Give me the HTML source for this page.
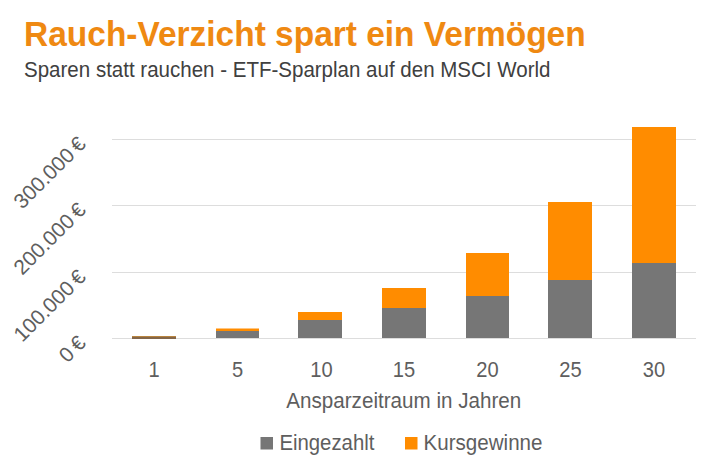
<!DOCTYPE html>
<html><head><meta charset="utf-8">
<style>
html,body{margin:0;padding:0;background:#fff;}
body{width:710px;height:473px;overflow:hidden;}
svg{display:block;font-family:"Liberation Sans",sans-serif;}
</style></head>
<body>
<svg width="710" height="473" viewBox="0 0 710 473">
<rect width="710" height="473" fill="#fff"/>
<text transform="translate(24.08,45.8) scale(0.9621,1)" font-size="34.8" font-weight="bold" fill="#EF8912">Rauch-Verzicht spart ein Vermögen</text>
<text transform="translate(24.03,77.1) scale(0.9677,1)" font-size="21.2" fill="#404040">Sparen statt rauchen - ETF-Sparplan auf den MSCI World</text>
<g fill="#DDDDDD"><rect x="112" y="139" width="584" height="1"/><rect x="112" y="205" width="584" height="1"/><rect x="112" y="272" width="584" height="1"/><rect x="112" y="338" width="584" height="1"/></g>
<g fill="#767676"><rect x="132" y="337" width="44" height="1"/><rect x="216" y="331" width="43" height="7"/><rect x="298" y="320" width="44" height="18"/><rect x="382" y="308" width="44" height="30"/><rect x="466" y="296" width="43" height="42"/><rect x="548" y="280" width="44" height="58"/><rect x="632" y="263" width="44" height="75"/></g>
<g fill="#FF8C00"><rect x="132" y="336" width="44" height="1"/><rect x="216" y="328.5" width="43" height="2.5"/><rect x="298" y="312" width="44" height="8"/><rect x="382" y="288" width="44" height="20"/><rect x="466" y="253" width="43" height="43"/><rect x="548" y="202" width="44" height="78"/><rect x="632" y="127" width="44" height="136"/></g>
<g font-size="21.2" fill="#5E5E5E" text-anchor="middle"><text transform="translate(154,376.9) scale(0.95,1)">1</text><text transform="translate(237.5,376.9) scale(0.95,1)">5</text><text transform="translate(321.5,376.9) scale(0.95,1)">10</text><text transform="translate(404,376.9) scale(0.95,1)">15</text><text transform="translate(487.5,376.9) scale(0.95,1)">20</text><text transform="translate(570.5,376.9) scale(0.95,1)">25</text><text transform="translate(654,376.9) scale(0.95,1)">30</text></g>
<text transform="translate(286.3,407.8) scale(0.9729,1)" font-size="21.2" fill="#5E5E5E">Ansparzeitraum in Jahren</text>
<g font-size="21" fill="#5E5E5E" text-anchor="end" word-spacing="-1.8"><text transform="translate(87,145.3) rotate(-45)">300.000 €</text><text transform="translate(87,211.3) rotate(-45)">200.000 €</text><text transform="translate(87,278.3) rotate(-45)">100.000 €</text><text transform="translate(87,344.3) rotate(-45)">0 €</text></g>
<rect x="132" y="336" width="44" height="1" fill="#B8843F"/><rect x="132" y="337" width="44" height="2" fill="#846648"/>
<rect x="260.5" y="437" width="12.5" height="12.5" fill="#767676"/>
<text transform="translate(279.38,449.8) scale(0.9608,1)" font-size="21.2" fill="#5E5E5E">Eingezahlt</text>
<rect x="405" y="437" width="12.5" height="12.5" fill="#FF8C00"/>
<text transform="translate(423.56,449.8) scale(0.9708,1)" font-size="21.2" fill="#5E5E5E">Kursgewinne</text>
</svg>
</body></html>
